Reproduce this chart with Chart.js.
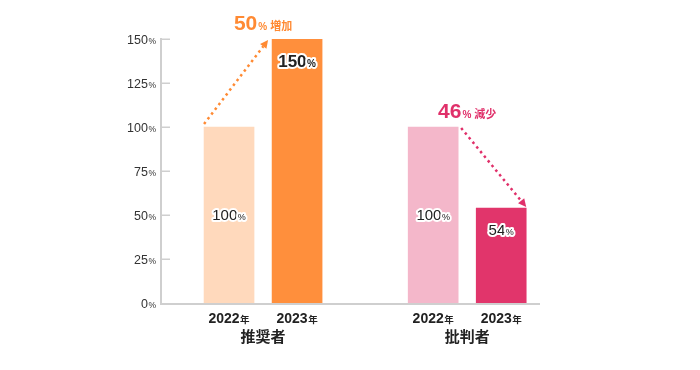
<!DOCTYPE html>
<html lang="ja">
<head>
<meta charset="utf-8">
<script src="https://cdn.jsdelivr.net/npm/chart.js@4.4.1/dist/chart.umd.min.js"></script>
<style>
    html, body { margin: 0; padding: 0; background: #fff; }
</style>
</head>
<body>
<canvas id="chart" width="700" height="370"></canvas>
<script>
const groupLabels = ["推奨者", "批判者"];
const yearLabels = ["2022", "2023"];
const recommenderValues = [100, 150];
const criticValues = [100, 54];
const changeWords = ["増加", "減少"];
const yTicks = [0, 25, 50, 75, 100, 125, 150];

const barColors = ["#ffd9bc", "#ff8f3c", "#f4b7ca", "#e1356b"];
const accentColors = ["#ff8a33", "#e0306a"];
const FONT = '"Liberation Sans", "Noto Sans CJK JP", sans-serif';
const JP_FONT = '"Noto Sans CJK JP", sans-serif';

const groupValues = [recommenderValues, criticValues];
const points = [];
groupValues.forEach((vals, g) => {
    vals.forEach((v, i) => points.push({ x: g * 3 + i + 1, y: v }));
});

// text made of parts with different sizes, vertically centred on y
function drawParts(ctx, parts, x, y, align, outline) {
    let total = 0;
    let maxSize = 0;
    parts.forEach(p => {
        ctx.font = `${p.weight || "normal"} ${p.size}px ${p.family || FONT}`;
        p.w = ctx.measureText(p.text).width + (p.gap || 0);
        total += p.w;
        maxSize = Math.max(maxSize, p.size);
    });
    let cx = align === "right" ? x - total : align === "center" ? x - total / 2 : x;
    const base = y + maxSize * 0.36;
    ctx.textAlign = "left";
    ctx.textBaseline = "alphabetic";
    parts.forEach(p => {
        ctx.font = `${p.weight || "normal"} ${p.size}px ${p.family || FONT}`;
        const tx = cx + (p.gap || 0);
        if (outline) {
            ctx.strokeStyle = "#fff";
            ctx.lineWidth = 4;
            ctx.lineJoin = "round";
            ctx.strokeText(p.text, tx, base);
        }
        ctx.fillStyle = p.color || "#222";
        ctx.fillText(p.text, tx, base);
        cx += p.w;
    });
}

function dottedArrow(ctx, x1, y1, x2, y2, color) {
    const ang = Math.atan2(y2 - y1, x2 - x1);
    const head = 8;
    const half = 4;
    ctx.save();
    ctx.strokeStyle = color;
    ctx.fillStyle = color;
    ctx.lineWidth = 2.5;
    ctx.setLineDash([2.5, 3.5]);
    ctx.beginPath();
    ctx.moveTo(x1, y1);
    ctx.lineTo(x2 - Math.cos(ang) * head, y2 - Math.sin(ang) * head);
    ctx.stroke();
    ctx.setLineDash([]);
    ctx.beginPath();
    ctx.moveTo(x2, y2);
    ctx.lineTo(x2 - Math.cos(ang) * head + Math.sin(ang) * half, y2 - Math.sin(ang) * head - Math.cos(ang) * half);
    ctx.lineTo(x2 - Math.cos(ang) * head - Math.sin(ang) * half, y2 - Math.sin(ang) * head + Math.cos(ang) * half);
    ctx.closePath();
    ctx.fill();
    ctx.restore();
}

const decor = {
    id: "decor",
    afterDatasetsDraw(chart) {
        const ctx = chart.ctx;
        const area = chart.chartArea;
        const yScale = chart.scales.y;
        const bars = chart.getDatasetMeta(0).data;

        ctx.save();
        // axes
        ctx.strokeStyle = "#cfcfcf";
        ctx.lineWidth = 2;
        ctx.beginPath();
        ctx.moveTo(area.left, area.top - 1);
        ctx.lineTo(area.left, area.bottom + 1);
        ctx.lineTo(area.right, area.bottom + 1);
        ctx.stroke();

        ctx.lineWidth = 1.5;
        yTicks.forEach(t => {
            const y = Math.round(yScale.getPixelForValue(t)) + 0.25;
            if (t > 0) {
                ctx.beginPath();
                ctx.moveTo(area.left, y);
                ctx.lineTo(area.left + 9, y);
                ctx.stroke();
            }
            drawParts(ctx, [
                { text: String(t), size: 12.5, color: "#333" },
                { text: "%", size: 8.5, color: "#333", gap: 0.5 }
            ], area.left - 5, y, "right");
        });

        // x labels and group names
        groupLabels.forEach((name, g) => {
            const a = bars[g * 2];
            const b = bars[g * 2 + 1];
            [a, b].forEach((bar, i) => {
                drawParts(ctx, [
                    { text: yearLabels[i], size: 14, weight: "bold", color: "#222" },
                    { text: "年", size: 9.5, weight: "bold", color: "#222", family: JP_FONT, gap: 0.5 }
                ], bar.x, 318, "center");
            });
            drawParts(ctx, [
                { text: name, size: 15, weight: "bold", color: "#222", family: JP_FONT }
            ], (a.x + b.x) / 2, 337, "center");

            // value labels
            const vals = groupValues[g];
            [a, b].forEach((bar, i) => {
                const v = vals[i];
                const y = i === 0 ? (bar.y + bar.base) / 2 : bar.y + 22;
                const big = v > 100;
                drawParts(ctx, [
                    { text: String(v), size: big ? 17 : 15, weight: big ? "bold" : "normal", color: "#222" },
                    { text: "%", size: big ? 10 : 9, weight: big ? "bold" : "normal", color: "#222", gap: 0.5 }
                ], bar.x, y, "center", true);
            });

            // change annotation + arrow
            const color = accentColors[g];
            const change = Math.abs(vals[1] - vals[0]);
            const topY = Math.min(a.y, b.y);
            drawParts(ctx, [
                { text: String(change), size: 21, weight: "bold", color: color },
                { text: "%", size: 10, weight: "bold", color: color, gap: 1 },
                { text: changeWords[g], size: 11, weight: "bold", color: color, family: JP_FONT, gap: 3 }
            ], (a.x + b.x) / 2, topY - 17, "center");

            if (vals[1] >= vals[0]) {
                dottedArrow(ctx, a.x - a.width / 2, a.y - 3, b.x - b.width / 2 - 4, b.y + 1, color);
            } else {
                dottedArrow(ctx, a.x + a.width / 2 + 3, a.y + 1, b.x + b.width / 2, b.y - 1, color);
            }
        });
        ctx.restore();
    }
};

new Chart(document.getElementById("chart"), {
    type: "bar",
    data: {
        datasets: [{
            data: points,
            backgroundColor: barColors,
            borderWidth: 0,
            barThickness: 50
        }]
    },
    options: {
        responsive: false,
        animation: false,
        devicePixelRatio: 1,
        layout: { padding: { left: 161, right: 160, top: 39, bottom: 67 } },
        plugins: { legend: { display: false }, tooltip: { enabled: false } },
        scales: {
            x: { type: "linear", min: 0, max: 5.57, offset: false, display: false },
            y: { min: 0, max: 150, display: false }
        }
    },
    plugins: [decor]
});
</script>
</body>
</html>
